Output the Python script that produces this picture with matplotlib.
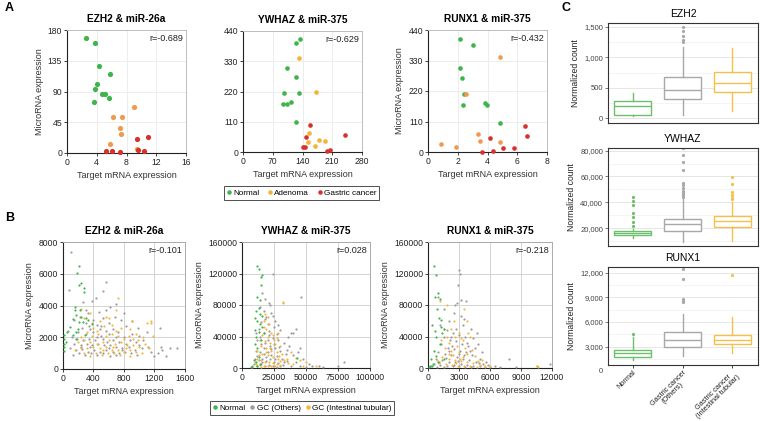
import numpy as np
import matplotlib
matplotlib.use('Agg')
import matplotlib.pyplot as plt
from matplotlib.lines import Line2D
from matplotlib.ticker import FuncFormatter, MultipleLocator

plt.rcParams['font.family'] = ['Liberation Sans', 'DejaVu Sans']

# ---------- colours ----------
GREEN = '#3DB54A'
ORANGE = '#F09A50'
YELLOW = '#F5B335'
RED = '#D8302A'
GRAY = '#9C9C9C'
B_YELLOW = '#F5B63C'
C_COLORS = ['#6CC06C', '#A8A8A8', '#F5C04A']

# ---------- panel A data (x, y) ----------
a_ezh2_normal = [(2.6, 168.8), (3.7, 160.5), (4.3, 128), (5.8, 115.8), (4.0, 100.7), (3.8, 93.4),
                 (4.75, 87), (5.1, 86), (5.6, 80.7), (3.6, 74.4)]
a_ezh2_adenoma = [(9.0, 67), (6.2, 52), (7.4, 53), (7.1, 36), (7.3, 27.7), (5.8, 13.6), (9.4, 6.3)]
a_ezh2_cancer = [(9.4, 20), (10.9, 23.8), (5.3, 2.4), (6.1, 2.4), (7.1, 1.5), (9.55, 3.9), (10.4, 3.4)]

a_ywhaz_normal = [(135, 411), (125.5, 397), (102.7, 306), (124, 271), (95.7, 215), (131.8, 213),
                  (94, 175), (104, 173), (113, 181), (124, 110)]
a_ywhaz_adenoma = [(131.8, 343), (172.5, 218), (156, 68), (153, 37.5), (179, 43.5), (193.7, 41), (168.6, 21.8)]
a_ywhaz_cancer = [(157.6, 99), (148, 55.6), (141, 18), (146.7, 19), (197.6, 4.8), (204, 7), (240.8, 61.7)]

a_runx1_normal = [(2.12, 406), (3.05, 384.5), (2.12, 302), (2.3, 266), (2.4, 208), (2.34, 168),
                  (3.83, 176.5), (3.99, 170.5), (4.81, 106)]
a_runx1_adenoma = [(4.81, 341), (2.54, 210), (0.89, 30), (1.85, 18), (3.36, 64), (3.5, 38.7), (4.81, 36.3)]
a_runx1_cancer = [(6.5, 95.5), (6.66, 58), (4.14, 50.8), (3.63, 1.2), (4.34, 2.4), (5.02, 15.7), (5.75, 13.3)]

# ---------- panel B data (x, y) ----------
b_ezh2_normal = [(189, 6070), (211, 6490), (211, 5290), (277, 5120), (277, 4870), (242, 5400), (163, 3920),
                 (154, 3700), (132, 3170), (176, 3390), (242, 3280), (211, 2960), (264, 2960), (308, 3220),
                 (88, 2650), (53, 2330), (35, 1690), (9, 1590), (13, 1380), (9, 1160), (9, 1900), (18, 2120),
                 (132, 2120), (176, 1900), (330, 3070), (198, 2540), (229, 3700), (374, 2860), (167, 2330),
                 (286, 2120)]
b_ezh2_others = [(100, 7400), (80, 5000), (560, 5500), (520, 4900), (430, 4500), (700, 4100), (800, 3500),
                 (380, 4300), (260, 4200), (620, 3900), (560, 3700), (470, 3600), (330, 3500), (220, 3300),
                 (150, 3100), (680, 3300), (900, 3000), (760, 3100), (400, 3100), (520, 3200), (300, 2900),
                 (440, 2800), (600, 2900), (830, 2700), (980, 2600), (1270, 2600), (1100, 2300), (250, 2600),
                 (350, 2500), (480, 2500), (560, 2400), (650, 2500), (720, 2300), (900, 2200), (1000, 2100),
                 (200, 2300), (300, 2200), (400, 2300), (500, 2100), (600, 2200), (700, 2000), (800, 2000),
                 (880, 1800), (960, 1700), (1050, 1800), (120, 2000), (180, 1900), (260, 1800), (340, 1900),
                 (420, 1800), (520, 1900), (580, 1700), (660, 1800), (740, 1700), (820, 1600), (150, 1600),
                 (230, 1500), (310, 1600), (380, 1500), (460, 1600), (540, 1500), (620, 1500), (700, 1400),
                 (780, 1300), (860, 1400), (940, 1200), (1040, 1300), (1120, 1400), (1280, 1400), (1300, 1200),
                 (1400, 1300), (1500, 1300), (1200, 850), (1350, 800), (90, 1300), (170, 1200), (250, 1250),
                 (330, 1100), (410, 1200), (490, 1100), (570, 1200), (650, 1100), (730, 1000), (810, 1100),
                 (890, 1000), (970, 900), (130, 900), (210, 1000), (290, 900), (370, 1000), (450, 900),
                 (530, 1000), (610, 850), (690, 900), (770, 1200), (340, 2700), (450, 2000), (350, 1400),
                 (600, 1300), (240, 1400), (1000, 1500), (1150, 1100), (1240, 1000), (60, 2400), (300, 3700),
                 (500, 2700)]
b_ezh2_intestinal = [(720, 4500), (1100, 2900), (1150, 2900), (1160, 3000), (900, 3000), (1180, 2100),
                     (700, 3700), (560, 3300), (350, 3500), (280, 3200), (230, 3800), (600, 3200), (480, 3000),
                     (640, 2800), (400, 2600), (540, 2700), (760, 2600), (880, 2500), (960, 2200), (1050, 2000),
                     (1080, 1600), (320, 2300), (380, 2100), (460, 2200), (560, 2100), (640, 2200), (720, 2100),
                     (800, 1900), (860, 2100), (920, 1900), (200, 1700), (280, 1800), (360, 1700), (440, 1600),
                     (520, 1700), (600, 1800), (680, 1600), (760, 1700), (840, 1500), (920, 1500), (1000, 1400),
                     (160, 1200), (240, 1300), (320, 1300), (400, 1400), (480, 1300), (560, 1400), (640, 1200),
                     (720, 1200), (800, 1100), (880, 1200), (960, 1100), (1040, 1000), (270, 1000), (350, 800),
                     (430, 1000), (510, 900), (590, 1000), (670, 1000), (750, 900), (830, 1300), (440, 2400),
                     (650, 1400), (240, 2000), (1130, 1300), (990, 1800), (700, 2400), (380, 2900), (520, 1200),
                     (880, 800)]

b_ywhaz_normal = [(12000, 130000), (13000, 126000), (15000, 115000), (16000, 118000), (15000, 105000),
                  (12000, 90000), (14000, 86000), (11000, 73000), (13000, 76000), (10000, 63000), (12000, 60000),
                  (14000, 56000), (16000, 52000), (13000, 46000), (11000, 40000), (15000, 35000), (10000, 30000),
                  (12000, 26000), (9000, 10000), (11000, 8000), (14000, 5000), (8000, 3000), (43000, 13000),
                  (12000, 2000), (16000, 66000), (14000, 68000), (10000, 48000), (17000, 44000), (7000, 1000),
                  (13000, 14000)]
b_ywhaz_others = [(24000, 120000), (46000, 90000), (16000, 95000), (18000, 87000), (21000, 82000),
                  (22000, 80000), (14000, 78000), (17000, 72000), (23000, 70000), (19000, 65000), (26000, 60000),
                  (28000, 55000), (42000, 50000), (40000, 45000), (38000, 44000), (36000, 40000), (30000, 48000),
                  (25000, 52000), (20000, 56000), (15000, 58000), (13000, 50000), (17000, 45000), (21000, 42000),
                  (24000, 38000), (28000, 35000), (33000, 32000), (37000, 28000), (45000, 25000), (12000, 35000),
                  (15000, 30000), (18000, 32000), (22000, 28000), (26000, 25000), (30000, 22000), (34000, 18000),
                  (40000, 16000), (48000, 12000), (11000, 22000), (14000, 20000), (17000, 18000), (20000, 20000),
                  (23000, 17000), (27000, 15000), (31000, 12000), (35000, 9000), (42000, 8000), (52000, 5000),
                  (55000, 3000), (60000, 2000), (63000, 1500), (75000, 3000), (80000, 7000), (10000, 12000),
                  (13000, 10000), (16000, 12000), (19000, 9000), (22000, 11000), (25000, 8000), (28000, 6000),
                  (32000, 4000), (38000, 3000), (45000, 2000), (9000, 5000), (12000, 3000), (15000, 5000),
                  (18000, 2000), (21000, 4000), (24000, 2000), (27000, 1500), (30000, 2500), (12000, 15000),
                  (17000, 25000), (20000, 35000), (25000, 30000), (29000, 27000), (14000, 40000), (11000, 45000),
                  (23000, 24000), (19000, 14000), (16000, 7000), (26000, 11000), (35000, 23000), (44000, 20000),
                  (8000, 1000), (50000, 1000), (33000, 7000), (21000, 47000), (27000, 43000), (18000, 62000),
                  (24000, 66000)]
b_ywhaz_intestinal = [(18000, 68000), (20000, 65000), (32000, 82000), (32000, 84000), (17000, 60000),
                      (21000, 56000), (19000, 50000), (23000, 45000), (16000, 42000), (20000, 40000),
                      (24000, 42000), (27000, 38000), (14000, 36000), (18000, 34000), (22000, 32000),
                      (26000, 30000), (30000, 28000), (15000, 28000), (19000, 25000), (23000, 22000),
                      (27000, 20000), (31000, 18000), (12000, 22000), (16000, 18000), (20000, 16000),
                      (24000, 14000), (28000, 12000), (33000, 10000), (12000, 12000), (15000, 10000),
                      (18000, 8000), (21000, 7000), (24000, 6000), (27000, 5000), (30000, 4000), (36000, 6000),
                      (40000, 5000), (45000, 10000), (50000, 8000), (58000, 3000), (11000, 5000), (14000, 4000),
                      (17000, 3000), (20000, 2000), (23000, 3000), (26000, 2000), (13000, 17000), (22000, 26000),
                      (25000, 35000), (17000, 52000), (29000, 15000), (42000, 13000), (35000, 12000),
                      (48000, 3000), (38000, 20000), (28000, 45000), (19000, 20000), (30000, 9000), (15000, 1500),
                      (10000, 8000)]

b_runx1_normal = [(600, 130000), (800, 118000), (1000, 95000), (1200, 88000), (700, 90000), (900, 75000),
                  (1100, 63000), (1300, 61000), (1500, 50000), (1400, 45000), (400, 55000), (800, 40000),
                  (1200, 30000), (600, 22000), (300, 12000), (500, 5000), (200, 2000), (100, 1000), (1000, 8000),
                  (1500, 12000), (800, 15000), (400, 3000), (1300, 52000), (700, 47000)]
b_runx1_others = [(3000, 125000), (3100, 120000), (2900, 105000), (2800, 82000), (3200, 86000), (3700, 85000),
                  (2600, 80000), (1500, 75000), (2500, 70000), (3200, 66000), (3500, 62000), (4200, 50000),
                  (1000, 90000), (7800, 12000), (10500, 2000), (11800, 5000), (8500, 1000), (7000, 1000),
                  (6000, 1000), (2000, 60000), (1200, 55000), (1800, 48000), (2400, 45000), (3000, 42000),
                  (3600, 40000), (4400, 38000), (4800, 30000), (1500, 40000), (2100, 36000), (2700, 34000),
                  (3300, 30000), (3900, 28000), (4500, 25000), (5200, 20000), (1300, 30000), (1900, 26000),
                  (2500, 24000), (3100, 22000), (3700, 20000), (4300, 16000), (5000, 12000), (5600, 8000),
                  (1000, 20000), (1600, 18000), (2200, 16000), (2800, 14000), (3400, 12000), (4000, 10000),
                  (4600, 7000), (5300, 5000), (800, 12000), (1400, 10000), (2000, 8000), (2600, 7000),
                  (3200, 5000), (3800, 4000), (4400, 3000), (5000, 2000), (600, 5000), (1200, 4000), (1800, 3000),
                  (2400, 2000), (3000, 2500), (3600, 1500), (4200, 1000), (5500, 1500), (6500, 2500), (300, 2000),
                  (900, 1500), (1500, 1000), (2700, 50000), (3400, 55000), (2300, 28000), (3800, 32000),
                  (4900, 6000), (2900, 9000), (1700, 13000), (3500, 17000), (2000, 22000), (4700, 44000),
                  (2200, 40000), (3000, 18000), (4100, 22000), (1100, 7000), (2500, 4000), (5800, 4000)]
b_runx1_intestinal = [(1200, 85000), (1800, 80000), (3500, 75000), (3800, 60000), (2200, 50000), (1500, 50000),
                      (3000, 45000), (2600, 40000), (3400, 36000), (4100, 40000), (2000, 32000), (2800, 28000),
                      (3600, 26000), (4300, 23000), (1600, 25000), (2200, 22000), (3000, 20000), (3800, 18000),
                      (4500, 15000), (5200, 10000), (1400, 14000), (2000, 12000), (2600, 10000), (3200, 9000),
                      (3800, 8000), (4400, 6000), (5000, 4000), (1100, 6000), (1700, 5000), (2300, 4000),
                      (2900, 3000), (3500, 2000), (4100, 2500), (4700, 1500), (5500, 3000), (6000, 3000),
                      (10500, 2000), (10600, 1000), (1800, 40000), (2500, 60000), (3200, 38000), (2400, 16000),
                      (3400, 14000), (900, 10000), (2700, 6500), (4800, 9000), (1300, 35000), (3900, 45000),
                      (2000, 18000), (3100, 12000)]

# ---------- panel C data (box statistics) ----------
c_groups = ['Normal', 'Gastric cancer\n(Others)', 'Gastric cancer\n(Intestinal tubular)']

ezh2_whislo = [32, 60, 115]
ezh2_q1 = [60, 320, 430]
ezh2_med = [205, 465, 585]
ezh2_q3 = [290, 680, 755]
ezh2_whishi = [410, 1165, 1150]
ezh2_fliers = [[], [1500, 1430, 1340, 1290, 1250], []]

ywhaz_whislo = [12300, 9700, 10200]
ywhaz_q1 = [14830, 18150, 20800]
ywhaz_med = [16600, 23100, 25600]
ywhaz_q3 = [18150, 27200, 29300]
ywhaz_whishi = [19800, 43600, 40500]
ywhaz_fliers = [[44000, 41300, 38000, 31600, 29000, 24600, 22000],
                [81800, 76600, 71400, 65000, 54700, 53400, 50900, 48500, 47000, 45500, 44400],
                [59800, 54200, 47800, 45700, 43600, 42400]]

runx1_whislo = [1360, 1890, 2170]
runx1_q1 = [1690, 2980, 3290]
runx1_med = [2170, 3860, 3860]
runx1_q3 = [2650, 4780, 4460]
runx1_whishi = [4180, 6950, 6590]
runx1_fliers = [[4500], [12500, 11200, 8800, 8600, 8400], [11700]]

W, H = 760, 421
fig = plt.figure(figsize=(W / 100, H / 100), dpi=100)


def add_ax(l, r, t, b):
    return fig.add_axes([l / W, 1 - b / H, (r - l) / W, (b - t) / H])


def scatter_panel(ax, groups, xlim, xstep, ylim, ystep, title, rtxt, ylabel, size, grid_c, side_c):
    for pts, col in groups:
        a = np.array(pts, dtype=float)
        ax.scatter(a[:, 0], a[:, 1], s=size, c=col, linewidths=0, zorder=3, clip_on=False)
    ax.set_xlim(*xlim)
    ax.set_ylim(*ylim)
    ax.xaxis.set_major_locator(MultipleLocator(xstep))
    ax.yaxis.set_major_locator(MultipleLocator(ystep))
    ax.grid(True, color=grid_c, lw=0.7, zorder=0)
    ax.set_axisbelow(True)
    for s in ['top', 'right']:
        ax.spines[s].set_color(side_c)
        ax.spines[s].set_linewidth(0.7)
    for s in ['left', 'bottom']:
        ax.spines[s].set_color('#222222')
        ax.spines[s].set_linewidth(0.8)
    ax.tick_params(labelsize=6.2, length=2, width=0.6, pad=1.5, colors='#222222')
    ax.set_title(title, fontsize=7.3, fontweight='bold', pad=6)
    ax.set_xlabel('Target mRNA expression', fontsize=6.5, labelpad=3, color='#333333')
    if ylabel:
        ax.set_ylabel('MicroRNA expression', fontsize=6.5, labelpad=3, color='#333333')
    ax.text(0.98, 0.97, rtxt, transform=ax.transAxes, ha='right', va='top', fontsize=6.5, color='#222222')


# ---------- panel A ----------
ax = add_ax(67, 186, 30, 153)
scatter_panel(ax, [(a_ezh2_normal, GREEN), (a_ezh2_adenoma, ORANGE), (a_ezh2_cancer, RED)],
              (0, 16), 4, (0, 180), 45, 'EZH2 & miR-26a', 'r=-0.689', True, 14, '#EDEDED', '#BDBDBD')
ax = add_ax(243, 362, 31, 152)
scatter_panel(ax, [(a_ywhaz_normal, GREEN), (a_ywhaz_adenoma, YELLOW), (a_ywhaz_cancer, RED)],
              (0, 280), 70, (0, 440), 110, 'YWHAZ & miR-375', 'r=-0.629', False, 11, '#EDEDED', '#BDBDBD')
ax = add_ax(428, 547, 30, 152)
scatter_panel(ax, [(a_runx1_normal, GREEN), (a_runx1_adenoma, ORANGE), (a_runx1_cancer, RED)],
              (0, 8), 2, (0, 440), 110, 'RUNX1 & miR-375', 'r=-0.432', True, 11, '#EDEDED', '#BDBDBD')

# ---------- panel B ----------
ax = add_ax(63, 185, 242, 369)
scatter_panel(ax, [(b_ezh2_others, GRAY), (b_ezh2_intestinal, B_YELLOW), (b_ezh2_normal, GREEN)],
              (0, 1600), 400, (0, 8000), 2000, 'EZH2 & miR-26a', 'r=-0.101', True, 2.5, '#D4D4D4', '#AAAAAA')
ax = add_ax(242, 370, 242, 368)
scatter_panel(ax, [(b_ywhaz_others, GRAY), (b_ywhaz_intestinal, B_YELLOW), (b_ywhaz_normal, GREEN)],
              (0, 100000), 25000, (0, 160000), 40000, 'YWHAZ & miR-375', 'r=0.028', True, 2.5,
              '#D4D4D4', '#AAAAAA')
ax = add_ax(428, 552, 242, 368)
scatter_panel(ax, [(b_runx1_others, GRAY), (b_runx1_intestinal, B_YELLOW), (b_runx1_normal, GREEN)],
              (0, 12000), 3000, (0, 160000), 40000, 'RUNX1 & miR-375', 'r=-0.218', True, 2.5,
              '#D4D4D4', '#AAAAAA')

# legends
def dot(c):
    return Line2D([], [], marker='o', ls='', color=c, markersize=2.2)

leg_kw = dict(fontsize=5.9, frameon=True, fancybox=False, edgecolor='#222222', ncol=3, loc='center',
              handletextpad=0.2, columnspacing=1.0, borderpad=0.35, handlelength=0.6, borderaxespad=0)
la = fig.legend([dot(GREEN), dot(YELLOW), dot(RED)], ['Normal', 'Adenoma', 'Gastric cancer'],
                bbox_to_anchor=(301.5 / W, 1 - 193 / H), **leg_kw)
la.get_frame().set_linewidth(0.7)
lb = fig.legend([dot(GREEN), dot(GRAY), dot(B_YELLOW)], ['Normal', 'GC (Others)', 'GC (Intestinal tubular)'],
                bbox_to_anchor=(302 / W, 1 - 408 / H), **dict(leg_kw, columnspacing=0.6))
lb.get_frame().set_linewidth(0.7)

# ---------- panel C ----------
def box_panel(ax, title, whislo, q1, med, q3, whishi, fliers, ylim, step, show_x):
    stats = []
    for i in range(3):
        stats.append(dict(label=c_groups[i], whislo=whislo[i], q1=q1[i], med=med[i], q3=q3[i],
                          whishi=whishi[i], fliers=fliers[i]))
    art = ax.bxp(stats, positions=[1, 2, 3], widths=0.75, showcaps=False, patch_artist=True)
    for i, c in enumerate(C_COLORS):
        art['boxes'][i].set(facecolor='white', edgecolor=c, linewidth=1.0)
        art['medians'][i].set(color=c, linewidth=1.0)
        art['whiskers'][2 * i].set(color=c, linewidth=1.0)
        art['whiskers'][2 * i + 1].set(color=c, linewidth=1.0)
        art['fliers'][i].set(marker='o', markersize=1.3, markerfacecolor=c, markeredgecolor=c)
    ax.set_xlim(0.5, 3.52)
    ax.set_ylim(*ylim)
    ax.yaxis.set_major_locator(MultipleLocator(step))
    ax.yaxis.set_minor_locator(MultipleLocator(step / 2))
    ax.yaxis.set_major_formatter(FuncFormatter(lambda v, p: f'{int(v):,}'))
    ax.grid(True, axis='y', which='major', color='#E6E6E6', lw=0.7)
    ax.grid(True, axis='y', which='minor', color='#F0F0F0', lw=0.5)
    ax.set_axisbelow(True)
    for s in ax.spines.values():
        s.set_color('#333333')
        s.set_linewidth(0.8)
    ax.tick_params(axis='y', which='major', labelsize=5.5, length=2, width=0.5, pad=1.5, colors='#444444')
    ax.tick_params(axis='y', which='minor', length=0)
    ax.set_ylabel('Normalized count', fontsize=6.2, labelpad=3, color='#222222')
    ax.set_title(title, fontsize=7.5, pad=4.5)
    if show_x:
        ax.set_xticks([1, 2, 3])
        labels = ax.set_xticklabels(c_groups, rotation=45, ha='right', rotation_mode='anchor', fontsize=5.3,
                                    color='#222222', linespacing=0.95)
        for t in labels:
            t.set_multialignment('center')
        ax.tick_params(axis='x', length=2, width=0.5, pad=1)
    else:
        ax.set_xticks([])


ax = add_ax(608, 758, 23, 123)
box_panel(ax, 'EZH2', ezh2_whislo, ezh2_q1, ezh2_med, ezh2_q3, ezh2_whishi, ezh2_fliers,
          (-75, 1560), 500, False)
ax = add_ax(608, 758, 148, 246)
box_panel(ax, 'YWHAZ', ywhaz_whislo, ywhaz_q1, ywhaz_med, ywhaz_q3, ywhaz_whishi, ywhaz_fliers,
          (6300, 82000), 20000, False)
ax = add_ax(608, 758, 267, 365)
box_panel(ax, 'RUNX1', runx1_whislo, runx1_q1, runx1_med, runx1_q3, runx1_whishi, runx1_fliers,
          (770, 12700), 3000, True)
ax.annotate('0', xy=(0, 0), xycoords=('axes fraction', 'data'), xytext=(-3.5, 0), textcoords='offset points',
            ha='right', va='center', fontsize=5.5, color='#444444', annotation_clip=False)

# panel letters
for letter, x, y in [('A', 5, 8), ('B', 5, 218), ('C', 562, 8)]:
    fig.text(x / W, 1 - y / H, letter, fontsize=9, fontweight='bold', ha='left', va='center')

fig.savefig('out.png', dpi=100)
